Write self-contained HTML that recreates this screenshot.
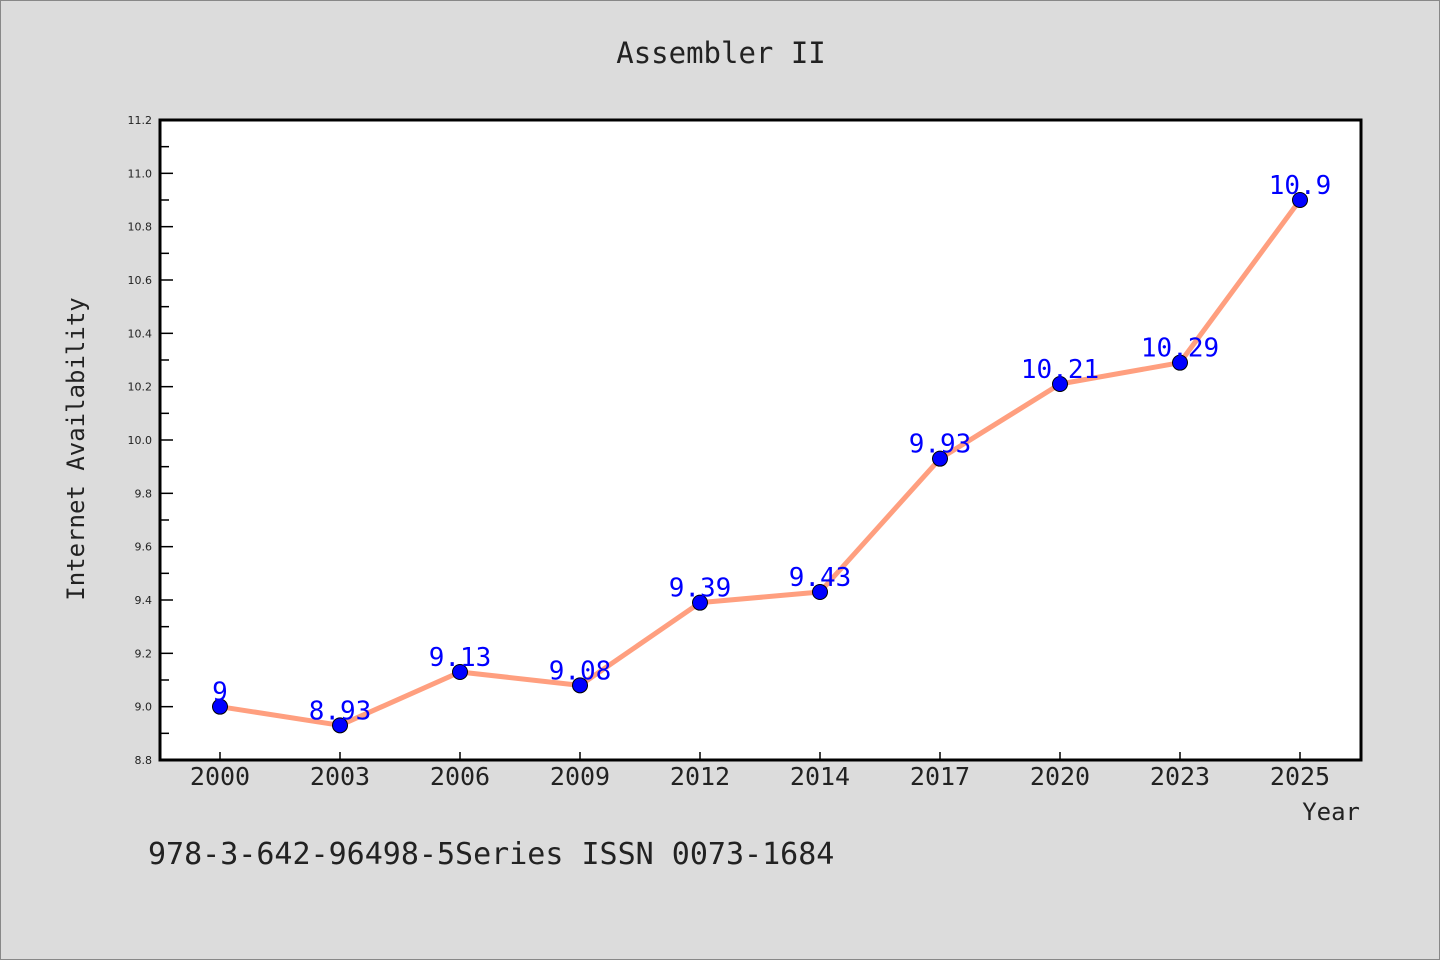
<!DOCTYPE html>
<html><head><meta charset="utf-8"><style>
html,body{margin:0;padding:0;background:#dcdcdc;}
svg{display:block;font-family:"DejaVu Sans Mono","Liberation Mono",monospace;}
</style></head><body>
<svg id="chart" width="1440" height="960" viewBox="0 0 1440 960" xmlns="http://www.w3.org/2000/svg">
<rect x="0.5" y="0.5" width="1439" height="959" fill="#dcdcdc" stroke="#888"/>
<text x="721" y="63" text-anchor="middle" font-size="29" fill="#222">Assembler II</text>
<rect x="160" y="120" width="1201" height="640" fill="#fff"/>
<g id="axes"></g>
<g id="series"></g>
<path d="M160,120 V760 H1361 V120 Z" fill="none" stroke="#000" stroke-width="3"/>
<text x="84" y="449" text-anchor="middle" font-size="24" fill="#222" transform="rotate(-90 84 449)">Internet Availability</text>
<text x="1360" y="820" text-anchor="end" font-size="24" fill="#222">Year</text>
<text x="148" y="864" font-size="30" fill="#222">978-3-642-96498-5Series ISSN 0073-1684</text>
</svg>
<script>
const categories = ["2000","2003","2006","2009","2012","2014","2017","2020","2023","2025"];
const values = [9, 8.93, 9.13, 9.08, 9.39, 9.43, 9.93, 10.21, 10.29, 10.9];
const valueLabels = ["9","8.93","9.13","9.08","9.39","9.43","9.93","10.21","10.29","10.9"];
const yTicks = [8.8, 9.0, 9.2, 9.4, 9.6, 9.8, 10.0, 10.2, 10.4, 10.6, 10.8, 11.0, 11.2];
const yMin = 8.8, yMax = 11.2;
const NS = "http://www.w3.org/2000/svg";
const L = 160, R = 1361, T = 120, B = 760;
function yScale(v){ return B - (v - yMin) / (yMax - yMin) * (B - T); }
function xScale(i){ return 220 + i * (1300 - 220) / (categories.length - 1); }
function mk(tag, attrs, parent){ const e = document.createElementNS(NS, tag); for (const k in attrs) e.setAttribute(k, attrs[k]); parent.appendChild(e); return e; }
const axes = document.getElementById('axes');
const series = document.getElementById('series');
yTicks.forEach((t, i) => {
  const y = yScale(t);
  const tk = mk('line', {x1: L, x2: L + 13, y1: y, y2: y, stroke: '#000', 'stroke-width': 1.5}, axes);
  
  
  const lb = mk('text', {x: 152, y: y + 4, 'text-anchor': 'end', 'font-size': 11, fill: '#222', 'font-family': 'DejaVu Sans, sans-serif'}, axes);
  lb.textContent = t.toFixed(1);
  
  
  if (i < yTicks.length - 1) {
    const ym = yScale(t + 0.1);
    const mt = mk('line', {x1: L, x2: L + 9, y1: ym, y2: ym, stroke: '#000', 'stroke-width': 1.5}, axes);
    
    
  }
});
categories.forEach((c, i) => {
  const x = xScale(i);
  const tk = mk('line', {x1: x, x2: x, y1: B, y2: B - 8, stroke: '#000', 'stroke-width': 1.5}, axes);
  
  
  const lb = mk('text', {x: x, y: 785, 'text-anchor': 'middle', 'font-size': 25, fill: '#222'}, axes);
  lb.textContent = c;
  
  
});
const pts = values.map((v, i) => xScale(i) + ',' + yScale(v)).join(' ');
const line = mk('polyline', {points: pts, fill: 'none', stroke: '#ff9f7f', 'stroke-width': 5, 'stroke-linejoin': 'round'}, series);


values.forEach((v, i) => {
  const x = xScale(i), y = yScale(v);
  const c = mk('circle', {cx: x, cy: y, r: 7.5, fill: '#0000ff', stroke: '#000', 'stroke-width': 1}, series);
  
  
  const t = mk('text', {x: x, y: y - 6, 'text-anchor': 'middle', 'font-size': 26, fill: '#0000ff'}, series);
  t.textContent = valueLabels[i];
  
  
});
</script>
</body></html>
